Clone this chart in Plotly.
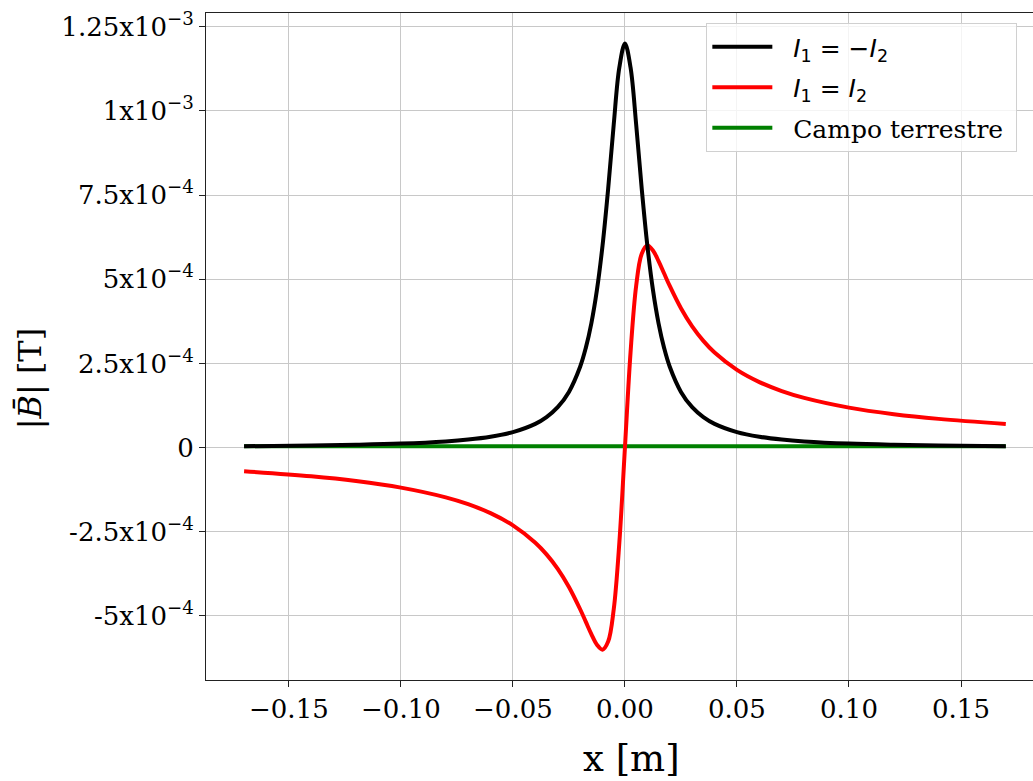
import plotly.graph_objects as go

# x positions [m]
x_pos = [-0.17, -0.14, -0.12, -0.10, -0.08, -0.07, -0.06, -0.05, -0.04, -0.035, -0.03,
         -0.025, -0.02, -0.0175, -0.015, -0.0125, -0.01, -0.0075, -0.005, -0.0025, 0.0,
         0.0025, 0.005, 0.0075, 0.01, 0.0125, 0.015, 0.0175, 0.02, 0.025, 0.03, 0.035,
         0.04, 0.05, 0.06, 0.07, 0.08, 0.10, 0.12, 0.14, 0.17]

# |B| values in units of 1e-4 T
b_opuestas = [0.041, 0.061, 0.083, 0.119, 0.185, 0.24, 0.324, 0.462, 0.706, 0.906, 1.2,
              1.655, 2.4, 2.954, 3.692, 4.683, 6.0, 7.68, 9.6, 11.29, 12.0,
              11.29, 9.6, 7.68, 6.0, 4.683, 3.692, 2.954, 2.4, 1.655, 1.2, 0.906,
              0.706, 0.462, 0.324, 0.24, 0.185, 0.119, 0.083, 0.061, 0.041]

b_iguales = [-0.703, -0.853, -0.993, -1.188, -1.477, -1.68, -1.946, -2.308, -2.824, -3.17, -3.6,
             -4.138, -4.8, -5.169, -5.538, -5.854, -6.0, -5.76, -4.8, -2.824, 0.0,
             2.824, 4.8, 5.76, 6.0, 5.854, 5.538, 5.169, 4.8, 4.138, 3.6, 3.17,
             2.824, 2.308, 1.946, 1.68, 1.477, 1.188, 0.993, 0.853, 0.703]

x_tierra = [-0.17, 0.17]
b_tierra = [0.04, 0.04]

scale = 1e-4

y_tickvals = [-5e-4, -2.5e-4, 0, 2.5e-4, 5e-4, 7.5e-4, 1e-3, 1.25e-3]
y_ticktext = ["-5x10<sup>−4</sup>", "-2.5x10<sup>−4</sup>", "0", "2.5x10<sup>−4</sup>",
              "5x10<sup>−4</sup>", "7.5x10<sup>−4</sup>", "1x10<sup>−3</sup>", "1.25x10<sup>−3</sup>"]
x_tickvals = [-0.15, -0.10, -0.05, 0.0, 0.05, 0.10, 0.15]
x_ticktext = ["−0.15", "−0.10", "−0.05", "0.00", "0.05", "0.10", "0.15"]

NB = "\u00a0\u00a0"
SANS = "<span style=\"font-family:'DejaVu Sans'\">"
name_op = NB + SANS + "<i>I</i><sub>1</sub> = −<i>I</i><sub>2</sub></span>"
name_ig = NB + SANS + "<i>I</i><sub>1</sub> = <i>I</i><sub>2</sub></span>"
name_ti = NB + "Campo terrestre" + "\u00a0"

fig = go.Figure()
fig.add_trace(go.Scatter(x=x_tierra, y=[v * scale for v in b_tierra], mode="lines",
                         line=dict(color="green", width=4), name=name_ti,
                         legendrank=3, legendgroup="c"))
fig.add_trace(go.Scatter(x=x_pos, y=[v * scale for v in b_iguales], mode="lines",
                         line=dict(color="red", width=4, shape="spline", smoothing=1.0),
                         name=name_ig, legendrank=2, legendgroup="b"))
fig.add_trace(go.Scatter(x=x_pos, y=[v * scale for v in b_opuestas], mode="lines",
                         line=dict(color="black", width=4, shape="spline", smoothing=1.0),
                         name=name_op, legendrank=1, legendgroup="a"))

fig.update_layout(
    width=1033, height=781,
    margin=dict(l=206, r=0, t=13, b=101),
    paper_bgcolor="white", plot_bgcolor="white",
    font=dict(family="DejaVu Serif", size=26, color="black"),
    showlegend=True,
    legend=dict(x=0.605, y=0.985, xanchor="left", yanchor="top",
                bgcolor="rgba(255,255,255,0.8)", bordercolor="#d0d0d0", borderwidth=1,
                font=dict(family="DejaVu Serif", size=25, color="black"),
                tracegroupgap=5, itemwidth=60),
    xaxis=dict(range=[-0.187, 0.18214], tickvals=x_tickvals, ticktext=x_ticktext,
               showgrid=True, gridcolor="#c8c8c8", gridwidth=1, zeroline=False,
               showline=True, linecolor="#222", linewidth=1, mirror=True,
               ticks="outside", ticklen=6, tickcolor="#222",
               tickfont=dict(family="DejaVu Serif", size=26)),
    yaxis=dict(range=[-6.901e-4, 1.2906e-3], tickvals=y_tickvals, ticktext=y_ticktext,
               showgrid=True, gridcolor="#c8c8c8", gridwidth=1, zeroline=False,
               showline=True, linecolor="#222", linewidth=1, mirror=False,
               ticks="outside", ticklen=6, tickcolor="#222",
               tickfont=dict(family="DejaVu Serif", size=26)),
    annotations=[
        dict(text="x [m]", xref="paper", yref="paper", x=0.514, y=-0.117,
             xanchor="center", yanchor="middle", showarrow=False,
             font=dict(family="DejaVu Serif", size=37)),
        dict(text="|<i>B̄</i>| [T]", xref="paper", yref="paper", x=-0.213, y=0.452,
             xanchor="center", yanchor="middle", showarrow=False, textangle=-90,
             font=dict(family="DejaVu Serif", size=32)),
    ],
)

fig.write_html("out.html", config={"displayModeBar": False},
               post_script="document.body.style.margin='0';document.body.style.overflow='hidden';")
